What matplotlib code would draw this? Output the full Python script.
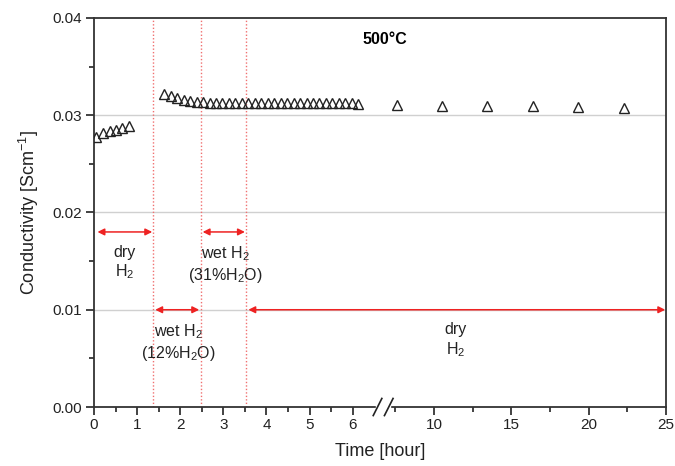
import matplotlib.pyplot as plt
import numpy as np
from matplotlib.ticker import FixedLocator, FormatStrFormatter, MultipleLocator

plt.rcParams['font.family'] = ['Liberation Sans', 'DejaVu Sans']
plt.rcParams['mathtext.fontset'] = 'custom'
plt.rcParams['mathtext.rm'] = 'Liberation Sans'
plt.rcParams['mathtext.it'] = 'Liberation Sans:italic'
plt.rcParams['mathtext.bf'] = 'Liberation Sans:bold'

# conductivity data, time in hours
t_dry1 = [0.05, 0.2, 0.36, 0.52, 0.66, 0.8]
s_dry1 = [0.0278, 0.0282, 0.0284, 0.0285, 0.0287, 0.0289]

t_wet = [1.63, 1.78, 1.93, 2.08, 2.23, 2.38, 2.53, 2.68, 2.83, 2.98, 3.13,
         3.28, 3.43, 3.58, 3.73, 3.88, 4.03, 4.18, 4.33, 4.48, 4.63, 4.78,
         4.93, 5.08, 5.23, 5.38, 5.53, 5.68, 5.83, 5.98, 6.13]
s_wet = [0.0322, 0.0320, 0.0318, 0.0316, 0.0315, 0.0314, 0.0314, 0.0313,
         0.0313, 0.0313, 0.0313, 0.0313, 0.0313, 0.0313, 0.0313, 0.0313,
         0.0313, 0.0313, 0.0313, 0.0313, 0.0313, 0.0313, 0.0313, 0.0313,
         0.0313, 0.0313, 0.0313, 0.0313, 0.0313, 0.0313, 0.0312]

t_dry2 = [7.6, 10.5, 13.4, 16.4, 19.3, 22.3]
s_dry2 = [0.0311, 0.0310, 0.0310, 0.0309, 0.0308, 0.0307]

# gas switching times
switch_times = [1.37, 2.48, 3.53]

# step regions: (start, end, level, label, label x, label y)
regions = [
    (0.08, 1.35, 0.018, 'dry\nH$_2$', 0.7, 0.0167),
    (1.42, 2.44, 0.010, 'wet H$_2$\n(12%H$_2$O)', 1.95, 0.0087),
    (2.52, 3.50, 0.018, 'wet H$_2$\n(31%H$_2$O)', 3.05, 0.0167),
    (3.58, 24.95, 0.010, 'dry\nH$_2$', 11.4, 0.0087),
]

xticks_major = [0, 1, 2, 3, 4, 5, 6, 10, 15, 20, 25]
xticks_minor = [0.5, 1.5, 2.5, 3.5, 4.5, 5.5, 7.5, 12.5, 17.5, 22.5]

# compressed time axis after the break
BRK = 6.7
RATIO = 0.359


def fwd(t):
    t = np.asarray(t, dtype=float)
    return np.where(t <= BRK, t, BRK + (t - BRK) * RATIO)


def inv(u):
    u = np.asarray(u, dtype=float)
    return np.where(u <= BRK, u, BRK + (u - BRK) / RATIO)


fig = plt.figure(figsize=(6.75, 4.66), dpi=100)
ax = fig.add_axes([0.1393, 0.1266, 0.8474, 0.8348])
ax.set_xscale('function', functions=(fwd, inv))
ax.set_xlim(0, 25)
ax.set_ylim(0, 0.04)

for s in ax.spines.values():
    s.set_linewidth(1.3)
    s.set_color('#333333')

ax.yaxis.set_major_locator(MultipleLocator(0.01))
ax.yaxis.set_minor_locator(MultipleLocator(0.005))
ax.yaxis.set_major_formatter(FormatStrFormatter('%.2f'))
ax.xaxis.set_major_locator(FixedLocator(xticks_major))
ax.xaxis.set_minor_locator(FixedLocator(xticks_minor))
ax.xaxis.set_major_formatter(FormatStrFormatter('%d'))
ax.tick_params(which='major', direction='out', length=6, width=1.2,
               labelsize=11, colors='#222222', pad=3)
ax.tick_params(axis='x', which='major', pad=2)
ax.tick_params(which='minor', direction='out', length=3.5, width=1.2,
               colors='#222222')

for yv in [0.01, 0.02, 0.03]:
    ax.axhline(yv, color='#d0d0d0', lw=1.0, zorder=0)

for ts in switch_times:
    ax.axvline(ts, color='#f07070', lw=1.0, ls=(0, (1, 1.5)), zorder=1)

mk = dict(marker='^', ls='none', ms=7, mfc='none', mec='#222222', mew=1.0,
          zorder=3)
ax.plot(t_dry1, s_dry1, **mk)
ax.plot(t_wet, s_wet, **mk)
ax.plot(t_dry2, s_dry2, **mk)

for x0, x1, lev, lab, lx, ly in regions:
    ax.annotate('', xy=(x1, lev), xytext=(x0, lev),
                arrowprops=dict(arrowstyle='<|-|>', color='#ee2222', lw=1.1,
                                mutation_scale=10, shrinkA=0, shrinkB=0))
    ax.text(lx, ly, lab, ha='center', va='top', fontsize=11.5,
            color='#222222', linespacing=1.2)

ax.text(6.85, 0.0386, '500°C', ha='center', va='top', fontsize=11.5,
        fontweight='bold')

# break marks on the time axis
trans = ax.get_xaxis_transform()
bx = float(fwd(6.72))
ax.add_patch(plt.Rectangle((inv(bx - 0.16), -0.01),
                           inv(bx + 0.16) - inv(bx - 0.16), 0.02,
                           transform=trans, color='white', clip_on=False,
                           zorder=5))
for dx in (-0.13, 0.13):
    xc = bx + dx
    ax.plot([inv(xc - 0.1), inv(xc + 0.1)], [-0.022, 0.022], transform=trans,
            color='#222222', lw=1.2, clip_on=False, zorder=6)

ax.set_xlabel('Time [hour]', fontsize=13, color='#222222', labelpad=8)
ax.set_ylabel('Conductivity [Scm$^{-1}$]', fontsize=13, color='#222222',
              labelpad=8)

fig.savefig('out.png', dpi=100)
